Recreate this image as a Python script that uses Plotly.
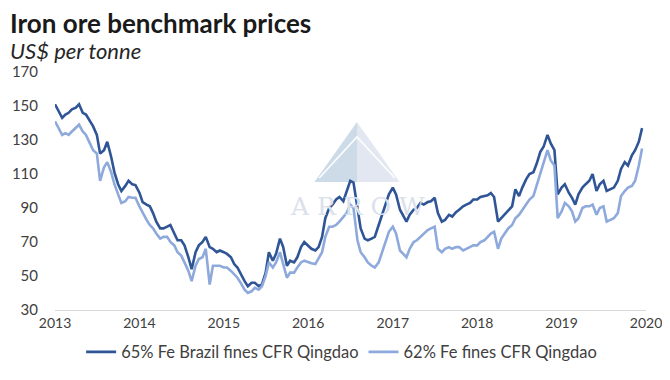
import plotly.graph_objects as go
import pandas as pd

# Half-monthly observation dates (1st and 15th of each month), Jan 2013 onward
dates = pd.date_range("2013-01-01", periods=168, freq="SMS")

brazil_65 = [
    151, 147, 143, 145, 146, 148, 149, 151, 146, 145, 141, 138,
    133, 122, 124, 129, 120, 111, 104, 100, 103, 106, 104, 103.5,
    99, 93.5, 92, 91, 87, 82, 78, 78, 79, 80, 75, 71,
    71, 68, 61, 54, 64, 68, 70, 73, 67, 66, 64, 65,
    64, 63, 61, 57, 55, 51, 47, 44, 46, 46, 44, 45,
    52, 64, 59, 63, 72, 67, 56, 59, 58, 61, 67, 70,
    68, 66, 65, 67, 73, 84, 90, 92, 95, 96.5, 94, 100,
    106, 105, 89, 78, 72, 71, 72, 73, 80, 86, 93, 98,
    102, 98, 89, 85, 82, 86, 89, 90, 93, 92, 93.5, 94,
    96, 87, 82, 83, 86, 85, 87.6, 89, 91, 92, 93, 95,
    95, 96.5, 97, 97.5, 98.8, 96.5, 82, 84, 86, 88, 91, 101,
    97, 102, 107, 110, 111, 116, 123, 126, 133, 128, 124, 98,
    102, 104, 99, 96, 92, 98, 102, 104, 106, 110, 100, 104,
    106, 100, 101, 102, 106, 113, 117, 115, 121, 124, 129, 137,
]

fines_62 = [
    141, 137, 133, 134, 133, 135, 137, 139, 135, 133, 128, 124,
    122, 106, 114, 117, 111, 104, 98, 93, 94, 96.5, 96, 96,
    91, 87, 83, 80, 78, 75, 72, 73, 73, 70, 68, 64,
    62, 58, 53, 47, 56, 60, 61, 66, 45, 56, 56, 56,
    55, 55, 53, 51, 49, 46, 42, 40, 41, 43, 42, 44,
    50, 58, 55, 58, 64, 57, 49, 52, 52, 55, 58, 59,
    58, 57.5, 57, 60, 64, 73, 79, 79, 80, 82, 85, 87,
    92, 90, 71, 64, 61, 58, 56, 55, 58, 64, 70, 76,
    79, 75, 65, 63, 61, 66, 70, 71, 73, 75, 77, 78,
    79, 66, 64, 66, 67, 66, 67, 67, 65, 66, 67, 68,
    68, 70, 71, 73, 75, 76, 66, 72, 75, 78, 80, 84,
    86, 89, 92, 95, 97, 103, 111, 116, 124, 118, 115, 84,
    88, 93, 91, 88, 82, 84, 90, 91, 91, 92, 86, 90,
    91, 82, 83, 84, 87, 97, 100, 102, 103, 106, 115, 125,
]

series_names = ["65% Fe Brazil fines CFR Qingdao", "62% Fe fines CFR Qingdao"]
y_ticks = [30, 50, 70, 90, 110, 130, 150, 170]
x_ticks = [str(y) for y in range(2013, 2021)]

FONT = "Lato"
fig = go.Figure()
fig.add_trace(go.Scatter(x=dates, y=brazil_65, mode="lines", name=series_names[0],
                         line=dict(color="#2F5597", width=2.6)))
fig.add_trace(go.Scatter(x=dates, y=fines_62, mode="lines", name=series_names[1],
                         line=dict(color="#8EA9DB", width=2.6)))

fig.update_layout(
    width=654, height=364,
    margin=dict(l=47, r=16, t=64, b=62, autoexpand=False),
    paper_bgcolor="white", plot_bgcolor="white",
    font=dict(family=FONT, color="#595959", size=14),
    showlegend=True,
    legend=dict(orientation="h", x=0.485, xanchor="center", y=-0.177, yanchor="middle",
                font=dict(size=16.5, color="#404040"), itemwidth=30,
                tracegroupgap=0, itemclick=False, bgcolor="rgba(0,0,0,0)"),
    xaxis=dict(type="date", range=["2013-01-01", "2020-01-01"], automargin=False,
               tickvals=[f"{y}-01-01" for y in x_ticks], ticktext=x_ticks,
               showgrid=False, showline=True, linecolor="#d9d9d9", linewidth=1,
               ticks="", zeroline=False, ticklabeloverflow="allow",
               tickfont=dict(size=14, color="#404040")),
    yaxis=dict(range=[30, 170], tickvals=y_ticks, showgrid=False, showline=False,
               automargin=False, zeroline=False, ticks="", ticklabelstandoff=16,
               ticklabeloverflow="allow",
               tickfont=dict(size=15, color="#404040")),
    annotations=[
        dict(text="<b>Iron ore benchmark prices</b>", xref="paper", yref="paper",
             x=-0.08, y=1.205, xanchor="left", yanchor="middle", showarrow=False,
             font=dict(size=26, color="#1a1a1a", family=FONT)),
        dict(text="<i>US$ per tonne</i>", xref="paper", yref="paper",
             x=-0.08, y=1.092, xanchor="left", yanchor="middle", showarrow=False,
             font=dict(size=22, color="#262626", family=FONT)),
        dict(text="A R R O W", xref="paper", yref="paper", x=0.511, y=0.433,
             xanchor="center", yanchor="middle", showarrow=False,
             font=dict(size=25, color="#dbe1eb", family="DejaVu Serif")),
    ],
    shapes=[
        dict(type="path", xref="paper", yref="paper", layer="below",
             path="M 0.439 0.538 L 0.511 0.790 L 0.511 0.538 Z",
             fillcolor="#cddbe8", line=dict(width=0)),
        dict(type="path", xref="paper", yref="paper", layer="below",
             path="M 0.511 0.538 L 0.511 0.790 L 0.583 0.538 Z",
             fillcolor="#e3e7f1", line=dict(width=0)),
        dict(type="path", xref="paper", yref="paper", layer="below",
             path="M 0.447 0.555 L 0.511 0.727 L 0.575 0.555",
             line=dict(color="white", width=1.5)),
    ],
)

fig.write_html("out.html")
